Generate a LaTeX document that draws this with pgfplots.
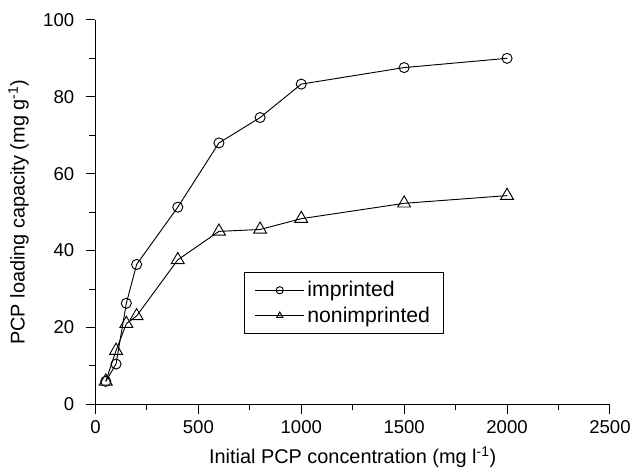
\documentclass[border=0pt]{standalone}
\usepackage{fontspec}
\setmainfont{Liberation Sans}
\usepackage{pgfplots}
\pgfplotsset{compat=1.18}

\begin{document}
\begin{tikzpicture}
\begin{axis}[
    scale only axis,
    width=388pt, height=290pt,
    xmin=0, xmax=2500, ymin=0, ymax=100,
    axis lines=left,
    axis line style={-, line width=0.8pt},
    xtick={0,500,...,2500}, ytick={0,20,...,100},
    minor xtick={250,750,...,2250}, minor ytick={10,30,...,90},
    tick align=outside,
    major tick length=7.5pt, minor tick length=4.5pt,
    every tick/.style={black, line width=0.8pt},
    /pgf/number format/assume math mode=true,
    /pgf/number format/1000 sep={},
    tick label style={font=\fontsize{14}{16}\selectfont},
    xticklabel style={yshift=-1pt},
    yticklabel style={xshift=-5pt},
    label style={font=\fontsize{15}{17}\selectfont},
    xlabel={Initial PCP concentration (mg l\textsuperscript{-1})},
    ylabel={PCP loading capacity (mg g\textsuperscript{-1})},
    xlabel style={yshift=-3pt},
    ylabel style={yshift=4pt},
    legend style={at={(0.288,0.345)}, anchor=north west, draw=black, line width=0.8pt,
        font=\fontsize{16}{18}\selectfont, row sep=2pt, inner xsep=8pt, inner ysep=5pt},
    legend cell align=left,
    legend image code/.code={
        \draw[#1, mark=none] (0cm,0cm) -- (1.3cm,0cm);
        \draw[#1, mark size=2.7pt] plot coordinates {(0.65cm,0cm)};
    },
]
\addplot[black, line width=0.7pt, mark=o, mark size=3.8pt, mark options={fill=white, line width=0.7pt}]
    coordinates {(50,6) (100,10.5) (150,26.3) (200,36.4) (400,51.3) (600,68) (800,74.6) (1000,83.3) (1500,87.6) (2000,90)};
\addlegendentry{imprinted}
\addplot[black, line width=0.7pt, mark=triangle, mark size=5.6pt, mark options={fill=white, line width=0.7pt}]
    coordinates {(50,6) (100,14) (150,21) (200,23) (400,37.6) (600,45) (800,45.5) (1000,48.3) (1500,52.3) (2000,54.3)};
\addlegendentry{nonimprinted}
\end{axis}
\path (current axis.south west) ++(-72pt,0pt);
\path (current axis.north west) ++(0pt,15pt);
\end{tikzpicture}
\end{document}
